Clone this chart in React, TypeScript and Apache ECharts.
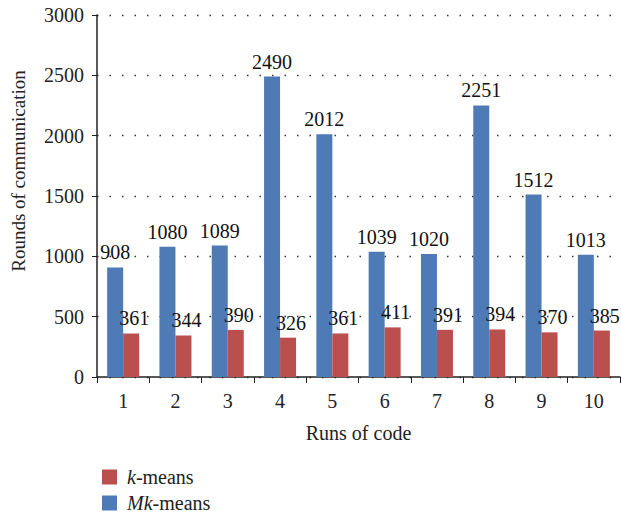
import React, { useEffect, useRef } from "react";
import * as echarts from "echarts";

const categories = ["1", "2", "3", "4", "5", "6", "7", "8", "9", "10"];
const mkMeans = [908, 1080, 1089, 2490, 2012, 1039, 1020, 2251, 1512, 1013];
const kMeans = [361, 344, 390, 326, 361, 411, 391, 394, 370, 385];
const yTicks = [0, 500, 1000, 1500, 2000, 2500, 3000];
const yTitle = "Rounds of communication";
const xTitle = "Runs of code";

const FONT = "'Liberation Serif', serif";
const FS = 20;

export default function App() {
  const ref = useRef<HTMLDivElement>(null);
  useEffect(() => {
    if (!ref.current) return;
    const chart = echarts.init(ref.current, undefined, { renderer: "svg" });
    const rich = {
      i: { fontStyle: "italic", fontFamily: FONT, fontSize: FS, color: "#222" },
      n: { fontFamily: FONT, fontSize: FS, color: "#222" },
    };
    const legendBase = {
      orient: "vertical",
      left: 97,
      itemWidth: 15,
      itemHeight: 15,
      icon: "rect",
      formatter: (name: string) =>
        name === "k-means" ? "{i|k}{n|-means}" : "{i|Mk}{n|-means}",
      textStyle: { rich, fontSize: FS, fontFamily: FONT, padding: [0, 0, 0, 5] },
    };
    chart.setOption({
      animation: false,
      textStyle: { fontFamily: FONT },
      grid: { left: 97, right: 1, top: 15, bottom: 136 },
      legend: [
        { ...legendBase, top: 462, data: ["k-means"] },
        { ...legendBase, top: 488, data: ["Mk-means"] },
      ],
      graphic: [
        {
          type: "text",
          x: 18,
          y: 171,
          rotation: Math.PI / 2,
          style: {
            text: yTitle,
            fontFamily: FONT,
            fontSize: 19,
            fill: "#222",
            align: "center",
            verticalAlign: "middle",
          },
        },
      ],
      xAxis: {
        type: "category",
        data: categories,
        name: xTitle,
        nameLocation: "middle",
        nameGap: 46,
        nameTextStyle: { fontFamily: FONT, fontSize: FS, color: "#222" },
        axisLine: { lineStyle: { color: "#222", width: 1.5 } },
        axisTick: { show: true, length: 6, lineStyle: { color: "#222" } },
        axisLabel: { fontFamily: FONT, fontSize: FS, color: "#222", margin: 14 },
      },
      yAxis: {
        type: "value",
        min: 0,
        max: 3000,
        interval: 500,
        axisLine: { show: true, lineStyle: { color: "#222", width: 1.5 } },
        axisTick: { show: true, length: 5, lineStyle: { color: "#222" } },
        axisLabel: {
          fontFamily: FONT,
          fontSize: FS,
          color: "#222",
          margin: 13,
          formatter: (v: number) => (yTicks.includes(v) ? String(v) : ""),
        },
        splitLine: {
          show: true,
          lineStyle: { color: "#333", type: [1.5, 11], width: 1.3 },
        },
      },
      series: [
        {
          name: "Mk-means",
          type: "bar",
          data: mkMeans,
          barWidth: 16,
          barGap: "0%",
          itemStyle: { color: "#4E7BB5" },
          label: {
            show: true,
            position: "top",
            distance: 5,
            fontFamily: FONT,
            fontSize: FS,
            color: "#111",
          },
        },
        {
          name: "k-means",
          type: "bar",
          data: kMeans,
          barWidth: 16,
          barGap: "0%",
          itemStyle: { color: "#B9504D" },
          label: {
            show: true,
            position: "top",
            distance: 5,
            offset: [3, 0],
            fontFamily: FONT,
            fontSize: FS,
            color: "#111",
          },
        },
      ],
    });
    return () => chart.dispose();
  }, []);
  return <div ref={ref} style={{ width: 621, height: 513, position: "absolute", left: 0, top: 0 }} />;
}
